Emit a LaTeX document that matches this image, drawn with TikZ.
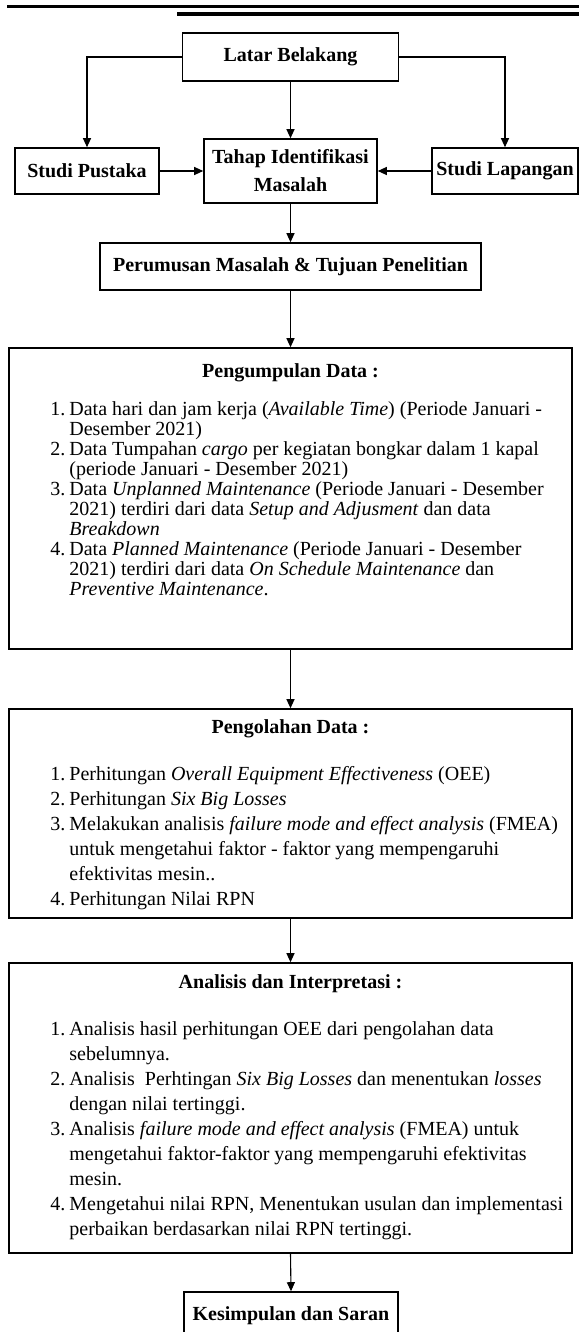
\documentclass[tikz,border=0pt]{standalone}
\usepackage{fontspec}
\setmainfont{Liberation Serif}
\usetikzlibrary{calc,arrows.meta}
\newcommand*{\ukuran  }{\fontsize{20}{28}\selectfont}
\newcommand*{\rapat   }{\fontsize{20}{20}\selectfont}
\newcommand*{\renggang}{\fontsize{20}{25}\selectfont}
\newcommand*{\lebar   }{563pt}
\newcommand*{\nomor}[1]{\makebox[19pt][l]{#1}}
\newcommand*{\lanjut  }{\hspace*{19pt}}
\tikzset{
	kotak/.style n args={2}{
		rectangle,
		minimum width = #1,
		minimum height = #2,
		draw = black,
		line width = 1.6pt,
		inner sep = 0pt,
		align = center,
		font = \ukuran\bfseries,
		},
	judul/.style={
		anchor = base,
		inner sep = 0pt,
		font = \ukuran\bfseries,
		},
	daftar/.style={
		anchor = north west,
		inner sep = 0pt,
		align = left,
		font = #1,
		},
	panah/.style={
		-{Triangle[length=9pt,width=8pt]},
		line width = 1.1pt,
		}
	}
\begin{document}
\begin{tikzpicture}[x=1pt, y=-1pt]
	\path[use as bounding box, clip] (0,0) rectangle (579,1332);
	% garis kepala halaman
	\draw [line width=3.4pt] (7,6.6) -- (579,6.6);
	\draw [line width=3.4pt] (177,14) -- (579,14);
	% kotak
	\node (latar)    [kotak={216pt}{48pt}]  at (290.5,  57)   {Latar Belakang};
	\node (pustaka)  [kotak={144pt}{46pt}]  at ( 87,   171)   {Studi Pustaka};
	\node (tahap)    [kotak={173pt}{64pt}]  at (290.5, 171)   {Tahap Identifikasi\\Masalah};
	\node (lapangan) [kotak={146pt}{46pt}]  at (505,   171)   {Studi Lapangan};
	\node (rumusan)  [kotak={381pt}{47pt}]  at (290.5, 266.5) {Perumusan Masalah \& Tujuan Penelitian};
	\node (kumpul)   [kotak={\lebar}{301pt}] at (290.5, 498.5) {};
	\node (olah)     [kotak={\lebar}{209pt}] at (290.5, 813.5) {};
	\node (analisis) [kotak={\lebar}{290pt}] at (290.5,1108)   {};
	\node (simpul)   [kotak={214pt}{48pt}]  at (291,  1316)   {Kesimpulan dan Saran};
	% isi kotak besar
	\node (kumpulJ) [judul] at ($(kumpul.north)+(0,30.6)$) {Pengumpulan Data :};
	\node (kumpulD) [daftar=\rapat] at ($(kumpul.north west)+(42,54.7)$) {%
		\nomor{1.}Data hari dan jam kerja (\emph{Available Time}) (Periode Januari -\\
		\lanjut Desember 2021)\\
		\nomor{2.}Data Tumpahan \emph{cargo} per kegiatan bongkar dalam 1 kapal\\
		\lanjut (periode Januari - Desember 2021)\\
		\nomor{3.}Data \emph{Unplanned Maintenance} (Periode Januari - Desember\\
		\lanjut 2021) terdiri dari data \emph{Setup and Adjusment} dan data\\
		\lanjut \emph{Breakdown}\\
		\nomor{4.}Data \emph{Planned Maintenance} (Periode Januari - Desember\\
		\lanjut 2021) terdiri dari data \emph{On Schedule Maintenance} dan\\
		\lanjut \emph{Preventive Maintenance}.};
	\node (olahJ) [judul] at ($(olah.north)+(0,25.6)$) {Pengolahan Data :};
	\node (olahD) [daftar=\renggang] at ($(olah.north west)+(42,57.7)$) {%
		\nomor{1.}Perhitungan \emph{Overall Equipment Effectiveness} (OEE)\\
		\nomor{2.}Perhitungan \emph{Six Big Losses}\\
		\nomor{3.}Melakukan analisis \emph{failure mode and effect analysis} (FMEA)\\
		\lanjut untuk mengetahui faktor - faktor yang mempengaruhi\\
		\lanjut efektivitas mesin..\\
		\nomor{4.}Perhitungan Nilai RPN};
	\node (analisisJ) [judul] at ($(analisis.north)+(0,26.6)$) {Analisis dan Interpretasi :};
	\node (analisisD) [daftar=\renggang] at ($(analisis.north west)+(42,59.7)$) {%
		\nomor{1.}Analisis hasil perhitungan OEE dari pengolahan data\\
		\lanjut sebelumnya.\\
		\nomor{2.}Analisis~~Perhtingan \emph{Six Big Losses} dan menentukan \emph{losses}\\
		\lanjut dengan nilai tertinggi.\\
		\nomor{3.}Analisis \emph{failure mode and effect analysis} (FMEA) untuk\\
		\lanjut mengetahui faktor-faktor yang mempengaruhi efektivitas\\
		\lanjut mesin.\\
		\nomor{4.}Mengetahui nilai RPN, Menentukan usulan dan implementasi\\
		\lanjut perbaikan berdasarkan nilai RPN tertinggi.};
	% panah
	\draw [panah] (latar.south)   -- (tahap.north);
	\draw [panah] (latar.west)    -| (pustaka.north);
	\draw [panah] (latar.east)    -| (lapangan.north);
	\draw [panah] (pustaka.east)  -- (tahap.west);
	\draw [panah] (lapangan.west) -- (tahap.east);
	\draw [panah] (tahap.south)   -- (rumusan.north);
	\draw [panah] (rumusan.south) -- (kumpul.north);
	\draw [panah] (kumpul.south)  -- (olah.north);
	\draw [panah] (olah.south)    -- (analisis.north);
	\draw [panah] (analisis.south)-- (simpul.north);
\end{tikzpicture}
\end{document}
